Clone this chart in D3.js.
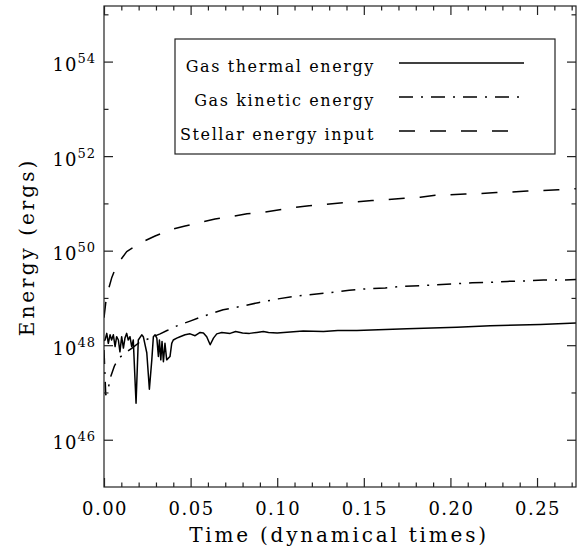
<!DOCTYPE html>
<html>
<head>
<meta charset="utf-8">
<script src="https://cdn.jsdelivr.net/npm/d3@7"></script>
<style>
	body { margin: 0; background: #fff; }
	text { font-family: "DejaVu Serif", "Liberation Serif", serif; fill: #000; }
</style>
</head>
<body>
<script>
// time in dynamical times, energy as log10(ergs)
var thermal_t = [0.0000,0.0006,0.0016,0.0025,0.0035,0.0044,0.0054,0.0064,0.0073,0.0083,0.0092,0.0102,0.0112,0.0121,0.0131,0.0140,0.0150,0.0160,0.0169,0.0185,0.0198,0.0218,0.0227,0.0247,0.0262,0.0276,0.0285,0.0295,0.0305,0.0314,0.0320,0.0328,0.0335,0.0343,0.0352,0.0362,0.0381,0.0391,0.0400,0.0420,0.0439,0.0468,0.0497,0.0526,0.0555,0.0574,0.0593,0.0613,0.0632,0.0651,0.0680,0.0728,0.0760,0.0800,0.0840,0.0882,0.0920,0.0950,0.1000,0.1075,0.1150,0.1267,0.1350,0.1460,0.1749,0.2038,0.2230,0.2519,0.2725];
var thermal_e = [48.10,48.11,48.25,48.04,48.22,48.11,48.22,47.97,48.18,48.11,47.86,48.18,47.94,48.15,48.25,48.11,48.18,47.97,48.11,46.77,48.11,48.22,48.18,47.84,47.07,47.69,48.18,48.22,48.15,47.76,48.11,47.69,48.08,47.65,48.04,47.69,47.76,48.04,48.11,48.15,48.18,48.22,48.24,48.20,48.27,48.26,48.18,48.01,48.15,48.24,48.27,48.25,48.29,48.26,48.25,48.27,48.29,48.27,48.26,48.28,48.30,48.29,48.31,48.31,48.35,48.38,48.41,48.44,48.47];

var kinetic_t = [0.0000,0.0010,0.0020,0.0040,0.0060,0.0083,0.0121,0.0162,0.0208,0.0266,0.0324,0.0364,0.0422,0.0497,0.0555,0.0613,0.0688,0.0803,0.0890,0.1005,0.1092,0.1214,0.1300,0.1416,0.1508,0.1624,0.1710,0.1832,0.1918,0.2034,0.2126,0.2242,0.2329,0.2444,0.2537,0.2652,0.2725];
var kinetic_e = [47.90,46.95,47.01,47.35,47.56,47.72,47.83,47.94,48.07,48.15,48.24,48.31,48.41,48.51,48.59,48.66,48.75,48.83,48.90,48.98,49.03,49.08,49.11,49.16,49.19,49.21,49.24,49.26,49.28,49.30,49.32,49.33,49.35,49.36,49.38,49.38,49.39];

var stellar_t = [0.0000,0.0012,0.0025,0.0044,0.0058,0.0083,0.0131,0.0179,0.0214,0.0295,0.0381,0.0468,0.0555,0.0641,0.0734,0.0826,0.0913,0.1005,0.1092,0.1184,0.1277,0.1363,0.1456,0.1548,0.1641,0.1733,0.1826,0.1912,0.1999,0.2085,0.2172,0.2265,0.2357,0.2444,0.2536,0.2623,0.2725];
var stellar_e = [48.58,48.96,49.17,49.42,49.55,49.74,49.98,50.09,50.17,50.31,50.44,50.52,50.60,50.67,50.72,50.78,50.81,50.86,50.91,50.95,50.98,51.01,51.03,51.06,51.08,51.11,51.13,51.17,51.18,51.20,51.21,51.23,51.24,51.26,51.27,51.29,51.31];

var x_major = [0, 0.05, 0.10, 0.15, 0.20, 0.25];
var x_labels = ["0.00", "0.05", "0.10", "0.15", "0.20", "0.25"];
var x_minor = [0.01,0.02,0.03,0.04,0.06,0.07,0.08,0.09,0.11,0.12,0.13,0.14,0.16,0.17,0.18,0.19,0.21,0.22,0.23,0.24,0.26,0.27];
var y_major = [46, 48, 50, 52, 54];
var y_minor = [47, 49, 51, 53, 55];

var legend_names = ["Gas thermal energy", "Gas kinetic energy", "Stellar energy input"];
var dash_styles = ["none", "14,8,2,8", "16,15"];

const svg_width = 584, svg_height = 553;
const left = 104, right = 576, top_y = 6, bottom = 487;

var svgContainer = d3.select("body")
						.append("svg")
						.attr("width", svg_width)
						.attr("height", svg_height);

var xScale = d3.scaleLinear().domain([0, 0.2725]).range([left, right]);
var yScale = d3.scaleLog().domain([1e45, 1.5e55]).range([bottom, top_y]);

function pairs(ts, es){
	return ts.map(function(t, i){ return {t: t, e: Math.pow(10, es[i])}; });
}

var lineFunction = d3.line()
					.x(function(d){ return xScale(d.t); })
					.y(function(d){ return yScale(d.e); });

var clip = svgContainer.append("clipPath").attr("id", "plotclip")
				.append("rect")
				.attr("x", left).attr("y", top_y)
				.attr("width", right - left).attr("height", bottom - top_y);

var series = [pairs(thermal_t, thermal_e), pairs(kinetic_t, kinetic_e), pairs(stellar_t, stellar_e)];
var curveGroup = svgContainer.append("g").attr("clip-path", "url(#plotclip)");
for(var i = 0; i < series.length; i++){
	curveGroup.append("path")
			.attr("d", lineFunction(series[i]))
			.attr("fill", "none")
			.attr("stroke", "#000")
			.attr("stroke-width", 1.5)
			.attr("stroke-linejoin", "round")
			.attr("stroke-dasharray", dash_styles[i]);
}

//frame
svgContainer.append("rect")
		.attr("x", left).attr("y", top_y)
		.attr("width", right - left).attr("height", bottom - top_y)
		.attr("fill", "none")
		.attr("stroke", "#222")
		.attr("stroke-width", 1.2);

//x axis bottom and top, mirrored ticks
var xBottom = d3.axisBottom(xScale).tickValues(x_major).tickSize(-9).tickFormat(function(d, i){ return x_labels[i]; });
var xTop = d3.axisTop(xScale).tickValues(x_major).tickSize(-9).tickFormat("");
var xBottomMinor = d3.axisBottom(xScale).tickValues(x_minor).tickSize(-4.5).tickFormat("");
var xTopMinor = d3.axisTop(xScale).tickValues(x_minor).tickSize(-4.5).tickFormat("");

var yLeft = d3.axisLeft(yScale).tickValues(y_major.map(function(d){ return Math.pow(10, d); })).tickSize(-9).tickFormat("");
var yRight = d3.axisRight(yScale).tickValues(y_major.map(function(d){ return Math.pow(10, d); })).tickSize(-9).tickFormat("");
var yLeftMinor = d3.axisLeft(yScale).tickValues(y_minor.map(function(d){ return Math.pow(10, d); })).tickSize(-4.5).tickFormat("");
var yRightMinor = d3.axisRight(yScale).tickValues(y_minor.map(function(d){ return Math.pow(10, d); })).tickSize(-4.5).tickFormat("");

var axes = [[xBottom, "translate(0," + bottom + ")"], [xTop, "translate(0," + top_y + ")"],
			[xBottomMinor, "translate(0," + bottom + ")"], [xTopMinor, "translate(0," + top_y + ")"],
			[yLeft, "translate(" + left + ",0)"], [yRight, "translate(" + right + ",0)"],
			[yLeftMinor, "translate(" + left + ",0)"], [yRightMinor, "translate(" + right + ",0)"]];
for(var a = 0; a < axes.length; a++){
	var g = svgContainer.append("g").attr("transform", axes[a][1]).call(axes[a][0]);
	g.select(".domain").remove();
	g.selectAll(".tick line").attr("stroke", "#222").attr("stroke-width", 1.2);
}

//x tick labels
svgContainer.selectAll(".xlab").data(x_major).enter().append("text")
		.attr("class", "xlab")
		.attr("x", function(d){ return xScale(d) + 1; })
		.attr("y", 515)
		.attr("text-anchor", "middle")
		.attr("font-size", "18px")
		.attr("letter-spacing", "1.5px")
		.text(function(d, i){ return x_labels[i]; });
svgContainer.selectAll(".tick text").remove();

//y tick labels 10^n
var ylabs = svgContainer.selectAll(".ylab").data(y_major).enter().append("text")
		.attr("class", "ylab")
		.attr("x", 96)
		.attr("y", function(d){ return yScale(Math.pow(10, d)) + 9.5; })
		.attr("text-anchor", "end")
		.attr("font-size", "18px")
		.attr("letter-spacing", "1px");
ylabs.append("tspan").text("10");
ylabs.append("tspan")
		.attr("dy", -8)
		.attr("font-size", "13px")
		.text(function(d){ return d; });

//axis titles
svgContainer.append("text")
		.attr("x", 339)
		.attr("y", 542)
		.attr("text-anchor", "middle")
		.attr("font-size", "20px")
		.attr("letter-spacing", "2.8px")
		.text("Time (dynamical times)");

svgContainer.append("text")
		.attr("transform", "translate(27,247) rotate(-90)")
		.attr("text-anchor", "middle")
		.attr("dominant-baseline", "central")
		.attr("font-size", "20px")
		.attr("letter-spacing", "3px")
		.text("Energy (ergs)");

//legend
var legendGroup = svgContainer.append("g");
legendGroup.append("rect")
		.attr("x", 175).attr("y", 39)
		.attr("width", 380).attr("height", 115)
		.attr("fill", "#fff")
		.attr("stroke", "#222")
		.attr("stroke-width", 1.2);
var legend_y = [63, 97, 131];
var legend_end = [524, 521, 510];
for(var k = 0; k < legend_names.length; k++){
	legendGroup.append("text")
			.attr("x", 375)
			.attr("y", legend_y[k] + 9)
			.attr("text-anchor", "end")
			.attr("font-size", "16px")
			.attr("letter-spacing", "1.6px")
			.text(legend_names[k]);
	legendGroup.append("line")
			.attr("x1", 399).attr("y1", legend_y[k])
			.attr("x2", legend_end[k]).attr("y2", legend_y[k])
			.attr("stroke", "#000")
			.attr("stroke-width", 1.5)
			.attr("stroke-dasharray", dash_styles[k]);
}
</script>
</body>
</html>
